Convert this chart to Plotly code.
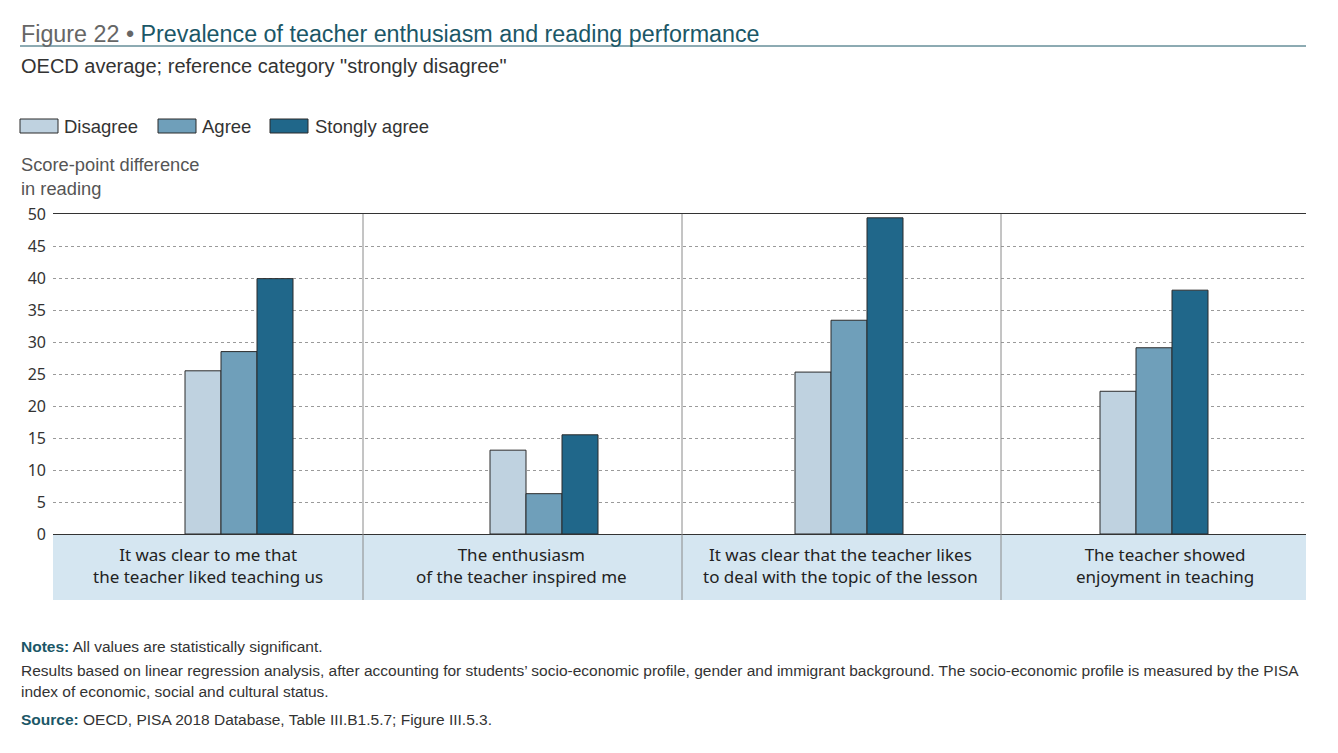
import plotly.graph_objects as go

categories = [
    "It was clear to me that<br>the teacher liked teaching us",
    "The enthusiasm<br>of the teacher inspired me",
    "It was clear that the teacher likes<br>to deal with the topic of the lesson",
    "The teacher showed<br>enjoyment in teaching",
]
series_names = ["Disagree", "Agree", "Stongly agree"]
disagree = [25.5, 13.1, 25.3, 22.3]
agree = [28.5, 6.3, 33.4, 29.1]
strongly_agree = [39.9, 15.5, 49.4, 38.1]
y_ticks = [0, 5, 10, 15, 20, 25, 30, 35, 40, 45, 50]

colors = ["#bfd2e0", "#6f9fba", "#20678a"]
values = [disagree, agree, strongly_agree]

W, H = 1338, 753
L, R, T, B = 53, 32, 214, 219
PW, PH = W - L - R, H - T - B


def px(xp):
    return (xp - L) / PW


def py(yp):
    return (H - B - yp) / PH


xpos = list(range(len(categories)))
fig = go.Figure()
for name, vals, col in zip(series_names, values, colors):
    fig.add_trace(go.Bar(
        x=xpos, y=vals, name=name,
        marker=dict(color=col, line=dict(color="#2b2b2b", width=1)),
        showlegend=False,
    ))

unit = 305.0
x0 = -(239 - L) / unit
x1 = x0 + PW / unit

dividers = [0, px(363), px(682), px(1001), 1]
label_centers = [px(207.5), px(521.5), px(840.5), px(1165)]

shapes = []
# category band
shapes.append(dict(type="rect", xref="paper", yref="paper", x0=0, x1=1,
                   y0=py(600), y1=0, fillcolor="#d5e6f1", line=dict(width=0), layer="below"))
# dividers
for d in dividers[1:-1]:
    shapes.append(dict(type="line", xref="paper", yref="paper", x0=d, x1=d,
                       y0=py(600), y1=1, line=dict(color="#8a8a8a", width=1)))
# title underline
shapes.append(dict(type="line", xref="paper", yref="paper", x0=px(20), x1=px(1306),
                   y0=py(46), y1=py(46), line=dict(color="#1b5767", width=1)))

annotations = []
for cx, cat in zip(label_centers, categories):
    annotations.append(dict(x=cx, y=py(565),
                            xref="paper", yref="paper", text=cat, showarrow=False,
                            xanchor="center", yanchor="middle", align="center",
                            font=dict(family="Noto Sans", size=17, color="#222")))

title_font = "Liberation Sans"
annotations.append(dict(x=px(19), y=py(34), xref="paper", yref="paper",
                        text="<span style='color:#666'>Figure 22 • </span>Prevalence of teacher enthusiasm and reading performance",
                        showarrow=False, xanchor="left", yanchor="middle",
                        font=dict(family=title_font, size=23.3, color="#1b5767")))
annotations.append(dict(x=px(19), y=py(66), xref="paper", yref="paper",
                        text='OECD average; reference category "strongly disagree"',
                        showarrow=False, xanchor="left", yanchor="middle",
                        font=dict(family=title_font, size=20, color="#333")))
annotations.append(dict(x=px(19), y=py(176), xref="paper", yref="paper",
                        text="Score-point difference<br>in reading", align="left",
                        showarrow=False, xanchor="left", yanchor="middle",
                        font=dict(family=title_font, size=18.3, color="#555")))

# legend
leg = [(20, 58, 62), (158, 196, 200), (270, 308, 313)]
for (a, b, t), name, col in zip(leg, series_names, colors):
    shapes.append(dict(type="rect", xref="paper", yref="paper", x0=px(a), x1=px(b),
                       y0=py(133), y1=py(119), fillcolor=col,
                       line=dict(color="#2b2b2b", width=1)))
    annotations.append(dict(x=px(t), y=py(126), xref="paper", yref="paper", text=name,
                            showarrow=False, xanchor="left", yanchor="middle",
                            font=dict(family=title_font, size=18.5, color="#333")))

notes = [
    (646, "<b><span style='color:#1b5767'>Notes:</span></b> All values are statistically significant."),
    (670, "Results based on linear regression analysis, after accounting for students’ socio-economic profile, gender and immigrant background. The socio-economic profile is measured by the PISA"),
    (691, "index of economic, social and cultural status."),
    (719, "<b><span style='color:#1b5767'>Source:</span></b> OECD, PISA 2018 Database, Table III.B1.5.7; Figure III.5.3."),
]
for yy, txt in notes:
    annotations.append(dict(x=px(19), y=py(yy), xref="paper", yref="paper", text=txt,
                            showarrow=False, xanchor="left", yanchor="middle",
                            font=dict(family=title_font, size=15.5, color="#333")))

fig.update_layout(
    width=W, height=H,
    margin=dict(l=L, r=R, t=T, b=B, pad=0),
    paper_bgcolor="white", plot_bgcolor="white",
    barmode="group", bargap=1 - 108 / unit, bargroupgap=0,
    shapes=shapes, annotations=annotations,
    xaxis=dict(range=[x0, x1], showticklabels=False, showgrid=False, zeroline=False,
               showline=True, mirror=True, linecolor="#333", linewidth=1, ticks=""),
    yaxis=dict(range=[0, 50], tickvals=y_ticks, showgrid=True, gridcolor="#9a9a9a",
               griddash="dot", gridwidth=1, zeroline=False, showline=False, ticks="",
               ticklabelstandoff=6,
               tickfont=dict(family="Noto Sans", size=16, color="#333")),
)

fig.write_html("out.html")
